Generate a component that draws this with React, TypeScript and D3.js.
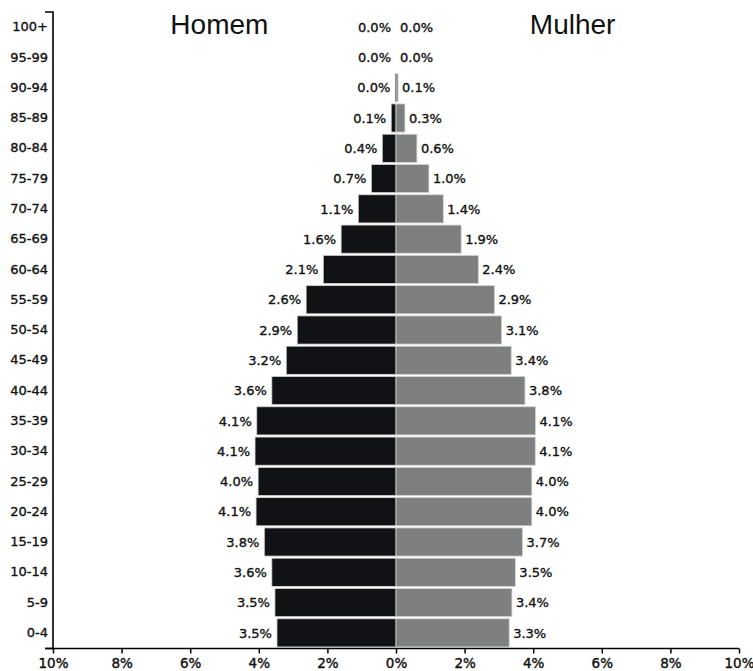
import * as d3 from "d3";
import React, { useEffect, useRef } from 'react'

const ageGroups = [
  '100+', '95-99', '90-94', '85-89', '80-84', '75-79', '70-74',
  '65-69', '60-64', '55-59', '50-54', '45-49', '40-44', '35-39',
  '30-34', '25-29', '20-24', '15-19', '10-14', '5-9', '0-4'
]

// percent of population, same order as ageGroups
const homem = [
  0.0, 0.0, 0.02, 0.14, 0.4, 0.72, 1.1,
  1.6, 2.12, 2.62, 2.88, 3.2, 3.62, 4.06,
  4.11, 4.02, 4.08, 3.84, 3.62, 3.53, 3.47
]
const mulher = [
  0.0, 0.0, 0.06, 0.26, 0.61, 0.96, 1.38,
  1.9, 2.4, 2.87, 3.08, 3.36, 3.76, 4.07,
  4.06, 3.96, 3.96, 3.69, 3.48, 3.38, 3.3
]

const xTicks = [-10, -8, -6, -4, -2, 0, 2, 4, 6, 8, 10]
const titles = ['Homem', 'Mulher']

const W = 753
const H = 671

const plotGraph = (node: SVGSVGElement) => {
  const svg = d3.select(node)
  svg.selectAll('*').remove()

  const font = 'DejaVu Sans, sans-serif'
  const left = 53, right = 739
  const top = 12, bottom = 648.5

  // signed scale: negative = men, positive = women
  const xScale = d3.scaleLinear().domain([-10, 10]).range([left, right])
  const yScale = d3.scaleBand<string>()
    .domain(ageGroups)
    .range([top, 648])
    .paddingInner(0.07)
    .paddingOuter(0.035)

  const rows = ageGroups.map((g, i) => ({ g, m: homem[i], f: mulher[i] }))

  // bars
  svg.append('g').selectAll('rect.m')
    .data(rows)
    .enter()
    .append('rect')
    .attr('x', d => xScale(-d.m))
    .attr('y', d => yScale(d.g)!)
    .attr('width', d => xScale(0) - xScale(-d.m))
    .attr('height', yScale.bandwidth())
    .attr('fill', '#111215')
    .attr('stroke', d => d.m > 0.05 ? '#d4d4d4' : 'none')
    .attr('stroke-width', 0.8)

  svg.append('g').selectAll('rect.f')
    .data(rows)
    .enter()
    .append('rect')
    .attr('x', xScale(0))
    .attr('y', d => yScale(d.g)!)
    .attr('width', d => xScale(d.f) - xScale(0))
    .attr('height', yScale.bandwidth())
    .attr('fill', '#7e8080')
    .attr('stroke', d => d.f > 0.05 ? '#d4d4d4' : 'none')
    .attr('stroke-width', 0.8)

  // value labels
  const lab = svg.append('g')
    .attr('font-family', font)
    .attr('font-size', 13)
    .attr('fill', '#111')
    .attr('stroke', '#111')
    .attr('stroke-width', 0.35)
  lab.selectAll('text.m')
    .data(rows)
    .enter()
    .append('text')
    .attr('x', d => xScale(-d.m) - 5)
    .attr('y', d => yScale(d.g)! + yScale.bandwidth() / 2)
    .attr('dy', '0.36em')
    .attr('text-anchor', 'end')
    .text(d => d.m.toFixed(1) + '%')
  lab.selectAll('text.f')
    .data(rows)
    .enter()
    .append('text')
    .attr('x', d => xScale(d.f) + 4)
    .attr('y', d => yScale(d.g)! + yScale.bandwidth() / 2)
    .attr('dy', '0.36em')
    .text(d => d.f.toFixed(1) + '%')

  // titles
  svg.append('g').selectAll('text')
    .data(titles)
    .enter()
    .append('text')
    .attr('x', (d, i) => xScale(i === 0 ? -5.15 : 5.15))
    .attr('y', 34)
    .attr('text-anchor', 'middle')
    .attr('font-family', 'Liberation Sans, Arial, sans-serif')
    .attr('font-size', 28)
    .attr('fill', '#111')
    .text(d => d)

  // y axis
  const yaxis = d3.axisLeft(yScale).tickSizeInner(0).tickSizeOuter(8).tickPadding(5)
  const gy = svg.append('g')
    .attr('transform', `translate(${left},0)`)
    .call(yaxis)
  gy.select('.domain').remove()
  gy.append('path')
    .attr('d', `M-8,${top}H0V${bottom}H-8`)
    .attr('fill', 'none')
    .attr('stroke', '#000')
    .attr('stroke-width', 1.6)
  gy.selectAll('text')
    .attr('font-family', font)
    .attr('font-size', 13)
    .attr('fill', '#111')
    .attr('stroke', '#111')
    .attr('stroke-width', 0.35)

  // x axis
  const xaxis = d3.axisBottom(xScale)
    .tickValues(xTicks)
    .tickFormat(d => Math.abs(+d) + '%')
    .tickSizeInner(5)
    .tickSizeOuter(0)
    .tickPadding(4.5)
  const gx = svg.append('g')
    .attr('transform', `translate(0,${bottom})`)
    .call(xaxis)
  gx.select('.domain').remove()
  gx.selectAll('line').attr('stroke-width', 1.5)
  gx.selectAll('text')
    .attr('font-family', font)
    .attr('font-size', 13.5)
    .attr('fill', '#111')
    .attr('stroke', '#111')
    .attr('stroke-width', 0.4)
  svg.append('line')
    .attr('x1', left - 8)
    .attr('x2', right)
    .attr('y1', bottom)
    .attr('y2', bottom)
    .attr('stroke', '#000')
    .attr('stroke-width', 1.6)
}

export default function App() {
  const ref = useRef<SVGSVGElement>(null)

  useEffect(() => {
    if (ref.current) plotGraph(ref.current)
  })
  return (
    <svg ref={ref} width={W} height={H}
      style={{ position: 'absolute', left: 0, top: 0, background: '#fff' }} />
  )
}
